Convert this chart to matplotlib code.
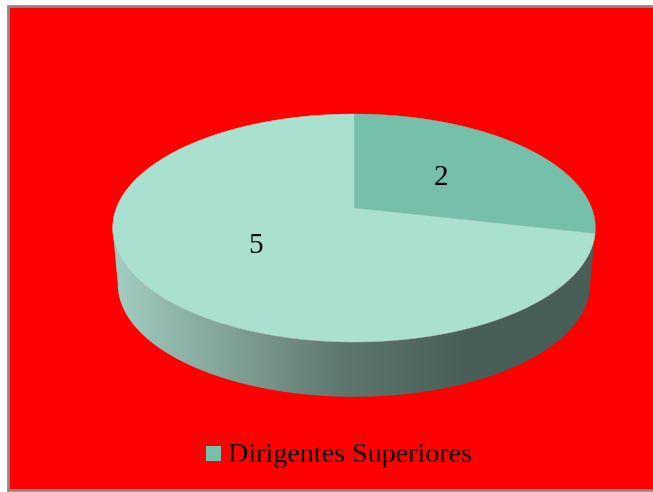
import numpy as np
import matplotlib
matplotlib.use('Agg')
import matplotlib.pyplot as plt
from matplotlib.patches import Polygon, Rectangle
from matplotlib.colors import LinearSegmentedColormap

# Values
labels = ['2', '5']
values = [2, 5]
slice_colors = ['#76BFAB', '#AAE0D0']
legend_label = 'Dirigentes Superiores'

W, H = 653, 492
CX = 354
TOP_Y = 208


def rim(t, r, y0, a, c):
    # perspective view of a flat disc, t is clockwise from the top
    v = np.cos(t)
    d = c * v + 1
    return np.column_stack((CX + r * np.sin(t) / d, (y0 + a * v) / d))


def top(t):
    return rim(t, 237.6, TOP_Y, -74, 0.1754)


def bottom(t):
    return rim(t, 232.5, 264.7, -62.5, 0.1754)


fig = plt.figure(figsize=(W / 100, H / 100), dpi=100, facecolor='white')
ax = fig.add_axes([0, 0, 1, 1])
ax.set_xlim(0, W)
ax.set_ylim(H, 0)
ax.axis('off')

# chart area
ax.add_patch(Rectangle((8, 6), W, 484, facecolor='#FF0000', edgecolor='#8C8C8C', linewidth=2))

# side of the pie with its shading
outline = np.vstack((bottom(np.linspace(np.pi * 0.556, np.pi * 1.444, 300)),
                     top(np.linspace(np.pi * 1.444, np.pi * 0.556, 300))))
cmap = LinearSegmentedColormap.from_list(
    'side', [(0, '#A3CDC1'), (0.48, '#5F776E'), (0.74, '#485E57'), (1, '#485E57')])
im = ax.imshow(np.linspace(0, 1, 256)[None, :], cmap=cmap, extent=(113, 595, 400, 200),
               aspect='auto', zorder=2)
im.set_clip_path(Polygon(outline, transform=ax.transData))
ax.set_xlim(0, W)
ax.set_ylim(H, 0)

# top face, slices start at 12 o'clock and go clockwise
start = 0
for val, col in zip(values, slice_colors):
    ang = 2 * np.pi * val / sum(values)
    arc = top(np.linspace(start, start + ang, 200))
    ax.add_patch(Polygon(np.vstack(([CX, TOP_Y], arc)), closed=True, facecolor=col,
                         edgecolor=col, linewidth=0.3, zorder=3))
    start += ang

ax.text(441, 178, labels[0], fontsize=21, family='Liberation Serif', ha='center', va='center', zorder=4)
ax.text(256, 246, labels[1], fontsize=21, family='Liberation Serif', ha='center', va='center', zorder=4)

# legend
ax.add_patch(Rectangle((206, 446), 15, 15, facecolor=slice_colors[0], edgecolor='none', zorder=4))
ax.text(228, 456, legend_label, fontsize=20.2, family='Liberation Serif', ha='left', va='center', zorder=4)

fig.savefig('out.png', dpi=100)
